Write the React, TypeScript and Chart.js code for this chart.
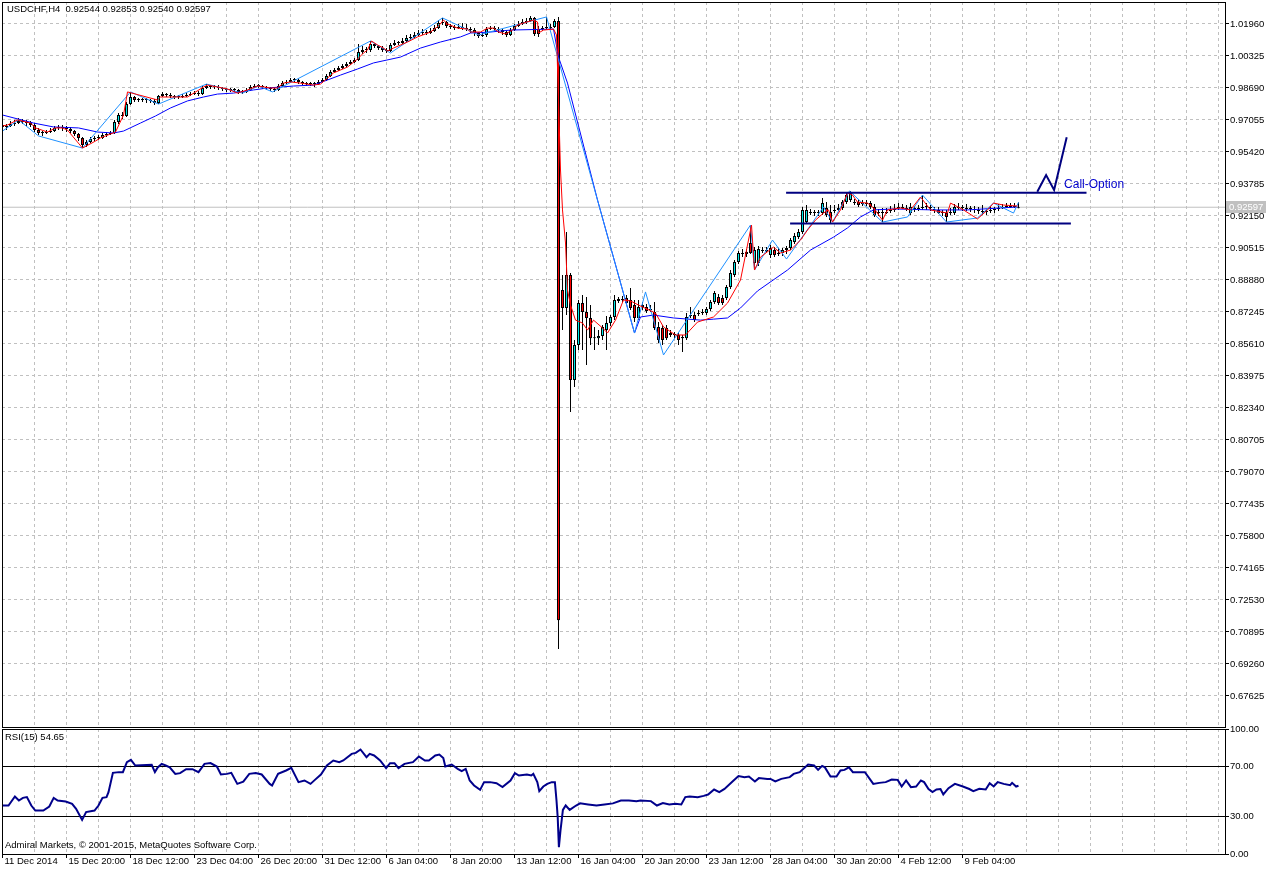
import React, { useEffect, useRef } from 'react';
import { Chart, registerables } from 'chart.js';

Chart.register(...registerables);

const FONT = '"Liberation Sans", Arial, sans-serif';
const GRID = '#C0C0C0';
const BULL = '#00E8E8';
const BEAR = '#FF0000';

const SYMBOL = 'USDCHF';
const PERIOD = 'H4';
const RSI_PERIOD = 15;
const CALL_TEXT = 'Call-Option';
const COPYRIGHT = 'Admiral Markets, \u00A9 2001-2015, MetaQuotes Software Corp.';

// x-axis labels, one every 16 bars (bar 0, 16, 32, ...)
const xLabels = ['11 Dec 2014', '15 Dec 20:00', '18 Dec 12:00', '23 Dec 04:00', '26 Dec 20:00', '31 Dec 12:00',
  '6 Jan 04:00', '8 Jan 20:00', '13 Jan 12:00', '16 Jan 04:00', '20 Jan 20:00', '23 Jan 12:00',
  '28 Jan 04:00', '30 Jan 20:00', '4 Feb 12:00', '9 Feb 04:00'];

const priceTicks = [0.67625, 0.69260, 0.70895, 0.72530, 0.74165, 0.75800, 0.77435, 0.79070, 0.80705, 0.82340,
  0.83975, 0.85610, 0.87245, 0.88880, 0.90515, 0.92150, 0.93785, 0.95420, 0.97055, 0.98690, 1.00325, 1.01960];
const rsiTicks = [0, 30, 70, 100];

const opens = [
  0.9680, 0.9670, 0.9675, 0.9685, 0.9690, 0.9700, 0.9695, 0.9690, 0.9680, 0.9654,
  0.9639, 0.9639, 0.9644, 0.9649, 0.9665, 0.9670, 0.9665, 0.9659, 0.9649, 0.9634,
  0.9614, 0.9578, 0.9593, 0.9608, 0.9614, 0.9614, 0.9629, 0.9634, 0.9639, 0.9695,
  0.9731, 0.9726, 0.9787, 0.9823, 0.9808, 0.9808, 0.9808, 0.9808, 0.9803, 0.9792,
  0.9828, 0.9838, 0.9833, 0.9828, 0.9823, 0.9823, 0.9828, 0.9833, 0.9838, 0.9843,
  0.9838, 0.9869, 0.9879, 0.9874, 0.9874, 0.9869, 0.9864, 0.9859, 0.9859, 0.9859,
  0.9849, 0.9849, 0.9859, 0.9874, 0.9879, 0.9879, 0.9874, 0.9869, 0.9864, 0.9859,
  0.9879, 0.9894, 0.9900, 0.9910, 0.9910, 0.9900, 0.9894, 0.9889, 0.9889, 0.9889,
  0.9900, 0.9910, 0.9930, 0.9951, 0.9961, 0.9971, 0.9981, 0.9992, 1.0002, 1.0012,
  1.0053, 1.0063, 1.0063, 1.0094, 1.0084, 1.0073, 1.0063, 1.0058, 1.0089, 1.0099,
  1.0099, 1.0109, 1.0124, 1.0130, 1.0140, 1.0150, 1.0155, 1.0150, 1.0160, 1.0175,
  1.0201, 1.0206, 1.0186, 1.0181, 1.0175, 1.0181, 1.0175, 1.0170, 1.0165, 1.0150,
  1.0135, 1.0140, 1.0170, 1.0175, 1.0170, 1.0165, 1.0155, 1.0140, 1.0165, 1.0186,
  1.0196, 1.0206, 1.0211, 1.0227, 1.0145, 1.0170, 1.0175, 1.0175, 1.0181, 1.0211,
  0.8837, 0.8745, 0.8913, 0.8377, 0.8556, 0.8770, 0.8724, 0.8694, 0.8591, 0.8591,
  0.8602, 0.8632, 0.8668, 0.8699, 0.8781, 0.8791, 0.8796, 0.8786, 0.8760, 0.8694,
  0.8750, 0.8750, 0.8740, 0.8724, 0.8648, 0.8643, 0.8643, 0.8617, 0.8607, 0.8607,
  0.8591, 0.8591, 0.8704, 0.8709, 0.8714, 0.8719, 0.8719, 0.8740, 0.8775, 0.8801,
  0.8796, 0.8796, 0.8852, 0.8913, 0.8980, 0.9026, 0.9021, 0.9077, 0.8975, 0.8975,
  0.9041, 0.9036, 0.9016, 0.9041, 0.9026, 0.9026, 0.9041, 0.9051, 0.9082, 0.9108,
  0.9133, 0.9184, 0.9235, 0.9230, 0.9235, 0.9230, 0.9256, 0.9235, 0.9240, 0.9246,
  0.9256, 0.9286, 0.9297, 0.9286, 0.9286, 0.9276, 0.9281, 0.9281, 0.9261, 0.9230,
  0.9235, 0.9230, 0.9240, 0.9246, 0.9256, 0.9261, 0.9251, 0.9230, 0.9256, 0.9251,
  0.9256, 0.9261, 0.9261, 0.9251, 0.9246, 0.9230, 0.9230, 0.9230, 0.9230, 0.9256,
  0.9261, 0.9251, 0.9256, 0.9251, 0.9246, 0.9235, 0.9240, 0.9240, 0.9246, 0.9251,
  0.9256, 0.9261, 0.9266, 0.9261, 0.92544];

const highs = [
  0.9695, 0.9685, 0.9700, 0.9706, 0.9716, 0.9711, 0.9706, 0.9700, 0.9690, 0.9665,
  0.9649, 0.9654, 0.9665, 0.9675, 0.9680, 0.9680, 0.9675, 0.9670, 0.9654, 0.9639,
  0.9619, 0.9603, 0.9619, 0.9624, 0.9629, 0.9639, 0.9644, 0.9649, 0.9706, 0.9741,
  0.9746, 0.9797, 0.9849, 0.9828, 0.9818, 0.9818, 0.9818, 0.9813, 0.9813, 0.9833,
  0.9849, 0.9843, 0.9843, 0.9833, 0.9833, 0.9838, 0.9843, 0.9849, 0.9854, 0.9854,
  0.9879, 0.9889, 0.9884, 0.9884, 0.9884, 0.9874, 0.9869, 0.9869, 0.9869, 0.9864,
  0.9859, 0.9869, 0.9884, 0.9889, 0.9889, 0.9884, 0.9879, 0.9874, 0.9869, 0.9889,
  0.9905, 0.9910, 0.9920, 0.9920, 0.9915, 0.9905, 0.9900, 0.9900, 0.9900, 0.9910,
  0.9920, 0.9941, 0.9961, 0.9971, 0.9981, 0.9992, 1.0002, 1.0012, 1.0022, 1.0094,
  1.0084, 1.0079, 1.0109, 1.0099, 1.0089, 1.0084, 1.0073, 1.0099, 1.0114, 1.0109,
  1.0124, 1.0140, 1.0145, 1.0155, 1.0165, 1.0170, 1.0165, 1.0175, 1.0191, 1.0216,
  1.0227, 1.0211, 1.0196, 1.0191, 1.0196, 1.0201, 1.0196, 1.0181, 1.0175, 1.0155,
  1.0150, 1.0181, 1.0186, 1.0186, 1.0181, 1.0170, 1.0160, 1.0175, 1.0196, 1.0211,
  1.0221, 1.0227, 1.0237, 1.0232, 1.0186, 1.0186, 1.0232, 1.0196, 1.0221, 1.0232,
  0.8913, 0.9133, 0.8924, 0.8581, 0.8786, 0.8811, 0.8801, 0.8760, 0.8648, 0.8632,
  0.8658, 0.8704, 0.8709, 0.8811, 0.8801, 0.8806, 0.8811, 0.8847, 0.8786, 0.8786,
  0.8775, 0.8765, 0.8760, 0.8775, 0.8673, 0.8658, 0.8658, 0.8632, 0.8622, 0.8617,
  0.8607, 0.8719, 0.8750, 0.8724, 0.8735, 0.8740, 0.8750, 0.8786, 0.8832, 0.8816,
  0.8811, 0.8862, 0.8939, 0.8990, 0.9036, 0.9046, 0.9046, 0.9169, 0.9056, 0.9062,
  0.9056, 0.9056, 0.9067, 0.9056, 0.9051, 0.9051, 0.9062, 0.9103, 0.9128, 0.9148,
  0.9261, 0.9271, 0.9251, 0.9246, 0.9246, 0.9307, 0.9286, 0.9271, 0.9271, 0.9276,
  0.9297, 0.9332, 0.9343, 0.9302, 0.9302, 0.9297, 0.9297, 0.9292, 0.9276, 0.9251,
  0.9256, 0.9256, 0.9266, 0.9276, 0.9281, 0.9276, 0.9271, 0.9281, 0.9266, 0.9271,
  0.9322, 0.9281, 0.9271, 0.9261, 0.9261, 0.9246, 0.9246, 0.9256, 0.9276, 0.9281,
  0.9271, 0.9276, 0.9266, 0.9266, 0.9261, 0.9271, 0.9251, 0.9266, 0.9261, 0.9276,
  0.9276, 0.9281, 0.9281, 0.9281, 0.92853];

const lows = [
  0.9659, 0.9654, 0.9670, 0.9675, 0.9685, 0.9685, 0.9675, 0.9670, 0.9644, 0.9629,
  0.9624, 0.9634, 0.9639, 0.9644, 0.9654, 0.9649, 0.9644, 0.9639, 0.9624, 0.9598,
  0.9562, 0.9567, 0.9588, 0.9598, 0.9603, 0.9608, 0.9619, 0.9629, 0.9634, 0.9685,
  0.9711, 0.9721, 0.9782, 0.9797, 0.9797, 0.9797, 0.9792, 0.9792, 0.9782, 0.9787,
  0.9823, 0.9823, 0.9818, 0.9813, 0.9813, 0.9818, 0.9823, 0.9828, 0.9833, 0.9828,
  0.9833, 0.9864, 0.9864, 0.9864, 0.9859, 0.9854, 0.9849, 0.9849, 0.9849, 0.9838,
  0.9838, 0.9843, 0.9854, 0.9869, 0.9869, 0.9864, 0.9859, 0.9854, 0.9849, 0.9854,
  0.9874, 0.9889, 0.9894, 0.9900, 0.9889, 0.9884, 0.9879, 0.9879, 0.9874, 0.9884,
  0.9894, 0.9905, 0.9925, 0.9946, 0.9956, 0.9966, 0.9976, 0.9987, 0.9997, 1.0007,
  1.0043, 1.0048, 1.0053, 1.0073, 1.0063, 1.0053, 1.0048, 1.0053, 1.0084, 1.0089,
  1.0094, 1.0104, 1.0114, 1.0124, 1.0135, 1.0140, 1.0140, 1.0145, 1.0155, 1.0170,
  1.0191, 1.0175, 1.0170, 1.0165, 1.0170, 1.0165, 1.0160, 1.0150, 1.0135, 1.0124,
  1.0130, 1.0130, 1.0165, 1.0160, 1.0150, 1.0140, 1.0130, 1.0135, 1.0160, 1.0181,
  1.0191, 1.0196, 1.0206, 1.0135, 1.0130, 1.0160, 1.0165, 1.0170, 1.0175, 0.7002,
  0.8632, 0.8709, 0.8213, 0.8341, 0.8530, 0.8530, 0.8454, 0.8556, 0.8530, 0.8556,
  0.8581, 0.8530, 0.8653, 0.8683, 0.8770, 0.8775, 0.8760, 0.8735, 0.8673, 0.8683,
  0.8735, 0.8719, 0.8724, 0.8632, 0.8566, 0.8556, 0.8581, 0.8597, 0.8591, 0.8556,
  0.8520, 0.8581, 0.8694, 0.8673, 0.8704, 0.8709, 0.8709, 0.8730, 0.8765, 0.8760,
  0.8760, 0.8786, 0.8842, 0.8903, 0.8970, 0.9005, 0.9005, 0.9021, 0.8949, 0.8959,
  0.9026, 0.9026, 0.9000, 0.9005, 0.9011, 0.9011, 0.9021, 0.9041, 0.9072, 0.9097,
  0.9123, 0.9174, 0.9220, 0.9215, 0.9215, 0.9220, 0.9210, 0.9174, 0.9230, 0.9240,
  0.9246, 0.9276, 0.9286, 0.9271, 0.9261, 0.9266, 0.9266, 0.9251, 0.9210, 0.9215,
  0.9184, 0.9225, 0.9230, 0.9235, 0.9246, 0.9251, 0.9240, 0.9220, 0.9235, 0.9240,
  0.9246, 0.9246, 0.9240, 0.9230, 0.9225, 0.9215, 0.9184, 0.9220, 0.9220, 0.9246,
  0.9240, 0.9240, 0.9235, 0.9230, 0.9225, 0.9220, 0.9220, 0.9230, 0.9230, 0.9240,
  0.9251, 0.9256, 0.9256, 0.9256, 0.92540];

const closes = [
  0.9670, 0.9675, 0.9685, 0.9690, 0.9700, 0.9695, 0.9690, 0.9680, 0.9654, 0.9639,
  0.9639, 0.9644, 0.9649, 0.9665, 0.9670, 0.9665, 0.9659, 0.9649, 0.9634, 0.9614,
  0.9578, 0.9593, 0.9608, 0.9614, 0.9614, 0.9629, 0.9634, 0.9639, 0.9695, 0.9731,
  0.9726, 0.9787, 0.9823, 0.9808, 0.9808, 0.9808, 0.9808, 0.9803, 0.9792, 0.9828,
  0.9838, 0.9833, 0.9828, 0.9823, 0.9823, 0.9828, 0.9833, 0.9838, 0.9843, 0.9838,
  0.9869, 0.9879, 0.9874, 0.9874, 0.9869, 0.9864, 0.9859, 0.9859, 0.9859, 0.9849,
  0.9849, 0.9859, 0.9874, 0.9879, 0.9879, 0.9874, 0.9869, 0.9864, 0.9859, 0.9879,
  0.9894, 0.9900, 0.9910, 0.9910, 0.9900, 0.9894, 0.9889, 0.9889, 0.9889, 0.9900,
  0.9910, 0.9930, 0.9951, 0.9961, 0.9971, 0.9981, 0.9992, 1.0002, 1.0012, 1.0053,
  1.0063, 1.0063, 1.0094, 1.0084, 1.0073, 1.0063, 1.0058, 1.0089, 1.0099, 1.0099,
  1.0109, 1.0124, 1.0130, 1.0140, 1.0150, 1.0155, 1.0150, 1.0160, 1.0175, 1.0201,
  1.0206, 1.0186, 1.0181, 1.0175, 1.0181, 1.0175, 1.0170, 1.0165, 1.0150, 1.0135,
  1.0140, 1.0170, 1.0175, 1.0170, 1.0165, 1.0155, 1.0140, 1.0165, 1.0186, 1.0196,
  1.0206, 1.0211, 1.0227, 1.0145, 1.0170, 1.0175, 1.0175, 1.0181, 1.0211, 0.7150,
  0.8745, 0.8913, 0.8377, 0.8556, 0.8770, 0.8724, 0.8694, 0.8591, 0.8591, 0.8602,
  0.8648, 0.8668, 0.8699, 0.8786, 0.8791, 0.8786, 0.8770, 0.8745, 0.8694, 0.8750,
  0.8760, 0.8730, 0.8735, 0.8643, 0.8581, 0.8581, 0.8591, 0.8607, 0.8612, 0.8581,
  0.8597, 0.8699, 0.8709, 0.8683, 0.8719, 0.8724, 0.8740, 0.8775, 0.8821, 0.8770,
  0.8770, 0.8852, 0.8924, 0.8980, 0.9026, 0.9021, 0.9031, 0.9026, 0.9041, 0.9046,
  0.9036, 0.9041, 0.9051, 0.9016, 0.9021, 0.9041, 0.9051, 0.9092, 0.9113, 0.9133,
  0.9246, 0.9246, 0.9230, 0.9235, 0.9230, 0.9281, 0.9220, 0.9194, 0.9246, 0.9256,
  0.9286, 0.9322, 0.9332, 0.9281, 0.9271, 0.9281, 0.9276, 0.9261, 0.9220, 0.9235,
  0.9230, 0.9235, 0.9246, 0.9251, 0.9261, 0.9256, 0.9256, 0.9261, 0.9251, 0.9256,
  0.9261, 0.9266, 0.9256, 0.9246, 0.9230, 0.9235, 0.9210, 0.9235, 0.9261, 0.9261,
  0.9256, 0.9256, 0.9251, 0.9246, 0.9240, 0.9240, 0.9235, 0.9246, 0.9251, 0.9256,
  0.9261, 0.9266, 0.9261, 0.9266, 0.92597];

// red ZigZag-type line: [bar, price]
const redLine = [[0, 0.9675], [1.25, 0.9680], [3.75, 0.9706], [7, 0.9690], [8.25, 0.9665], [11.25, 0.9644], [13.25, 0.9665],
  [15, 0.9665], [16.25, 0.9654], [20, 0.9562], [23.25, 0.9598], [24.5, 0.9614], [27, 0.9634], [28.25, 0.9644], [30.25, 0.9731],
  [31.25, 0.9849], [38.75, 0.9808], [39.5, 0.9823], [41.5, 0.9823], [46.25, 0.9823], [50.25, 0.9874], [51.25, 0.9884],
  [56.25, 0.9864], [58.75, 0.9843], [61.25, 0.9859], [63.75, 0.9879], [67, 0.9869], [68.75, 0.9869], [70.25, 0.9894],
  [72, 0.9900], [74.5, 0.9894], [77.75, 0.9884], [79.5, 0.9889], [81.25, 0.9920], [82.75, 0.9946], [86.25, 0.9976],
  [88.75, 1.0017], [90.25, 1.0048], [91.25, 1.0063], [92.25, 1.0109], [93.75, 1.0089], [95.25, 1.0073], [96.25, 1.0058],
  [97.75, 1.0073], [101.25, 1.0104], [103.75, 1.0130], [107, 1.0155], [109, 1.0186], [110.25, 1.0216], [111.25, 1.0196],
  [113.75, 1.0175], [116.25, 1.0170], [117, 1.0155], [119.5, 1.0155], [121.25, 1.0175], [122.75, 1.0175], [124, 1.0155],
  [125.75, 1.0145], [127.5, 1.0165], [128.75, 1.0191], [130.25, 1.0201], [132.75, 1.0216], [133.75, 1.0206], [134, 1.0150],
  [135.25, 1.0165], [137.75, 1.0170], [138.5, 1.0140], [139, 0.9808], [139.5, 0.9450], [140, 0.9246], [140.75, 0.9077],
  [141.25, 0.8837], [142, 0.8760], [143.25, 0.8683], [145, 0.8668], [146.25, 0.8632], [147.75, 0.8683], [150, 0.8643],
  [151.25, 0.8617], [153.25, 0.8683], [155.25, 0.8786], [157, 0.8781], [159.5, 0.8755], [163.25, 0.8719], [165.25, 0.8648],
  [168.25, 0.8607], [170.75, 0.8607], [173.75, 0.8673], [177.75, 0.8699], [181.25, 0.8770], [184.5, 0.8888], [187.25, 0.9169],
  [188, 0.8939], [189.5, 0.9005], [192.75, 0.9056], [194.5, 0.9026], [197, 0.9041], [199.5, 0.9092], [201.25, 0.9143],
  [203.25, 0.9194], [205.25, 0.9230], [206.5, 0.9246], [207.5, 0.9184], [209.5, 0.9246], [211.25, 0.9332], [212.5, 0.9322],
  [213.75, 0.9286], [216.25, 0.9281], [217.75, 0.9256], [220, 0.9194], [221.25, 0.9246], [224.5, 0.9256], [227, 0.9246],
  [229.5, 0.9312], [232, 0.9246], [236.25, 0.9230], [237, 0.9281], [240.25, 0.9246], [243.75, 0.9200], [246.25, 0.9246],
  [247.75, 0.9281], [250.25, 0.9271], [253.75, 0.9266]];

// light-blue ZigZag: [bar, price]
const blueZigzag = [[0, 0.9649], [4, 0.9706], [9, 0.9624], [20, 0.9562], [32, 0.9849], [39, 0.9787], [51, 0.9889],
  [60, 0.9843], [64, 0.9879], [67.5, 0.9849], [92, 1.0109], [97, 1.0048], [110, 1.0227], [119, 1.0140], [136, 1.0232],
  [158, 0.8617], [160.75, 0.8827], [165.25, 0.8505], [187, 0.9169], [188, 0.8939], [192.5, 0.9092], [196, 0.8995],
  [205.25, 0.9261], [207.5, 0.9184], [211.75, 0.9343], [220, 0.9184], [226.25, 0.9210], [230, 0.9322], [236, 0.9184],
  [243.75, 0.9205], [247.75, 0.9281], [252.75, 0.9230], [254, 0.9285]];

// blue moving average: [bar, price]
const maLine = [[0, 0.9731], [7.75, 0.9690], [12.75, 0.9670], [19, 0.9665], [23.75, 0.9644], [27.75, 0.9639], [30.25, 0.9649],
  [34.5, 0.9690], [38.25, 0.9726], [42, 0.9767], [46.25, 0.9803], [50.25, 0.9823], [53.75, 0.9838], [57.75, 0.9843],
  [62.75, 0.9859], [66.25, 0.9869], [69.5, 0.9874], [72.75, 0.9879], [77.75, 0.9884], [81.25, 0.9910], [84.5, 0.9935],
  [88.75, 0.9966], [92.75, 0.9997], [99.5, 1.0027], [104.5, 1.0073], [109.5, 1.0104], [114.5, 1.0130], [117, 1.0150],
  [122, 1.0155], [127, 1.0165], [137.75, 1.0170], [139, 1.0027], [141.25, 0.9894], [148.75, 0.9297], [158, 0.8617],
  [159.5, 0.8699], [162.75, 0.8709], [167.75, 0.8694], [174.5, 0.8683], [177.75, 0.8688], [181.25, 0.8694], [184.5, 0.8745],
  [188.75, 0.8832], [196.25, 0.8939], [202, 0.9041], [207.75, 0.9107], [211.25, 0.9154], [214.5, 0.9210], [217.75, 0.9246],
  [222.75, 0.9251], [232.75, 0.9246], [241.25, 0.9246], [249.5, 0.9256], [253.75, 0.9261]];

// RSI(15): [bar, value]
const rsiLine = [[0, 38.8], [1.5, 38.8], [3.1, 46], [4.1, 42.8], [5.1, 44.9], [6.1, 45.5], [7.2, 38.8], [8.2, 34.8], [10.2, 34.8],
  [11.7, 38], [12.8, 44.9], [13.8, 42.8], [15.8, 42], [17.4, 40.1], [18.4, 36.1], [19.9, 27.3], [20.9, 33.5], [23, 34.8],
  [24, 38.8], [25, 44.9], [26, 45.5], [26.5, 49.5], [27.6, 64.9], [29.1, 65.5], [30.1, 65.5], [31.1, 73.5], [32.1, 75.3],
  [33.2, 70.8], [37.3, 71.3], [38.1, 65.5], [38.8, 69.3], [39.8, 72.1], [40.8, 70.8], [41.8, 69.3], [43.2, 64.1], [44.4, 64.7],
  [45.9, 67.9], [47.5, 67.9], [49, 65.5], [50.5, 72.1], [52, 72.7], [53.6, 70], [54.6, 63.6], [56.1, 64.1], [57.2, 64.9],
  [58.7, 56.1], [60.2, 57.9], [61.7, 64.1], [63.3, 64.7], [64.8, 63.6], [66.8, 56.1], [67.4, 54.8], [68.9, 64.1], [70.9, 66.8],
  [72.2, 68.9], [74, 57.5], [75.5, 58.8], [77, 56.1], [78.1, 59.3], [79.6, 63.6], [81.1, 70.8], [82.7, 74.8], [84.2, 73.5],
  [85.2, 74.8], [87.3, 80.1], [88.3, 80.9], [89.5, 83.6], [91, 77.5], [91.8, 80.1], [92.9, 78.8], [94.4, 74.8], [95.9, 68.7],
  [96.9, 72.7], [98, 72.7], [99, 68.7], [100.5, 72.1], [102.6, 73.5], [104.1, 78], [105.6, 74.8], [106.6, 74.8], [108.2, 78.8],
  [109.2, 79.6], [110.2, 76.7], [110.7, 70], [112.3, 71.6], [113.8, 68.1], [114.8, 66.3], [115.8, 68.1], [116.8, 58.8],
  [117.9, 54.8], [119.4, 51.3], [120.4, 57.5], [121.9, 57.5], [123.5, 56.6], [125, 53.5], [127, 58.8], [128.1, 64.7],
  [129.1, 62.8], [131.1, 63.6], [132.2, 62.8], [132.7, 64.1], [133.7, 57.5], [134.2, 50.3], [135.2, 54], [136.2, 56.1],
  [137.3, 57.5], [138.1, 57.5], [138.5, 42.8], [138.8, 29.5], [139.1, 5.5], [139.5, 18.8], [140.1, 35.3], [140.8, 38.8],
  [141.8, 35.3], [143.4, 38.8], [144.4, 40.5], [146.4, 39.6], [148.5, 38.8], [150.5, 39.6], [152.6, 40.5], [154.6, 42.8],
  [156.6, 42.8], [158.5, 42.3], [159.5, 42.8], [162.1, 42.3], [163.6, 38.8], [165.1, 40.7], [166.7, 39.6], [168.2, 40.1],
  [169.7, 39.6], [170.7, 45.5], [171.8, 46], [173.8, 45.5], [175.3, 46.5], [176.4, 47.6], [177.9, 51.6], [179.2, 49.5],
  [180.5, 52.1], [182.5, 58], [184, 62.3], [185.5, 61.5], [186.6, 62], [188.1, 58], [189.1, 60.7], [191.2, 60.1], [192, 60.1],
  [193.2, 58], [194.7, 60.1], [196.8, 61.5], [197.8, 64.1], [199.3, 65.5], [201.4, 71.6], [202.9, 70.8], [203.9, 67.3],
  [204.9, 70.5], [205.6, 69.3], [207, 62], [208.5, 62], [209.5, 66.8], [210.5, 67.3], [211.6, 69.3], [212.6, 65.5],
  [215.6, 65.5], [217.7, 56.1], [219.2, 56.9], [220.8, 57.5], [222.3, 59.6], [223.8, 59.3], [224.8, 54], [225.9, 58.8],
  [227.1, 53.5], [228.4, 54], [229.6, 58.8], [230.4, 57.5], [231.5, 52], [232.5, 49.5], [233.5, 51.6], [234.5, 52],
  [235.2, 47.6], [236.5, 52.7], [238.1, 56.1], [240.1, 54], [241.7, 52], [242.7, 50.3], [244.2, 52.1], [245.8, 51.6],
  [246.8, 56.6], [247.8, 54], [248.8, 57.5], [250.3, 56.1], [251.9, 55.1], [252.4, 56.9], [253.4, 54], [254, 54.65]];

// hand-drawn objects: [bar, price]
const channelTop = [[195.9, 0.93339], [271.0, 0.93339]];
const channelBottom = [[196.9, 0.91765], [267.1, 0.91765]];
const callPath = [[258.7, 0.9339], [260.9, 0.9424], [262.9, 0.9348], [266.05, 0.9617]];
const callLabelAt = [265.4, 0.9377];

const X_MIN = -0.125;
const X_MAX = 305.625;
const Y_MIN = 0.66041;
const Y_MAX = 1.03084;

const gridBars: number[] = [];
for (let b = 0; b <= 304; b += 8) gridBars.push(b);

const pts = (arr: number[][]) => arr.map(([x, y]) => ({ x, y }));

export default function App() {
  const mainRef = useRef<HTMLCanvasElement>(null);
  const rsiRef = useRef<HTMLCanvasElement>(null);

  useEffect(() => {
    Chart.defaults.font.family = FONT;
    const n = closes.length;
    const last = n - 1;
    const idx = closes.map((_, i) => i);
    const wickData = idx.map((i) => ({ x: i, y: [lows[i], highs[i]] }));
    const bodyData = idx.map((i) => ({ x: i, y: [opens[i], closes[i]] }));
    const bodyColors = idx.map((i) => (closes[i] > opens[i] ? BULL : closes[i] < opens[i] ? BEAR : '#000'));
    const lastClose = closes[last];
    const title = `${SYMBOL},${PERIOD}  ${opens[last].toFixed(5)} ${highs[last].toFixed(5)} ${lows[last].toFixed(5)} ${closes[last].toFixed(5)}`;
    const rsiLast = rsiLine[rsiLine.length - 1][1];

    const lineDs = (label: string, data: number[][], color: string, width: number, order: number) => ({
      type: 'line' as const, label, data: pts(data), borderColor: color, borderWidth: width,
      pointRadius: 0, tension: 0, order, fill: false,
    });

    const mainDecor = {
      id: 'mainDecor',
      afterDraw(chart: any) {
        const { ctx, chartArea: a, scales } = chart;
        ctx.save();
        ctx.strokeStyle = '#000';
        ctx.lineWidth = 1;
        ctx.setLineDash([]);
        ctx.strokeRect(a.left + 0.5, a.top + 0.5, a.right - a.left, a.bottom - a.top);
        ctx.textAlign = 'left';
        ctx.textBaseline = 'middle';
        ctx.fillStyle = '#000';
        ctx.font = `9.5px ${FONT}`;
        ctx.fillText(title, a.left + 5, a.top + 7);
        ctx.fillStyle = '#0000CD';
        ctx.font = `12px ${FONT}`;
        ctx.fillText(CALL_TEXT, scales.x.getPixelForValue(callLabelAt[0]), scales.y.getPixelForValue(callLabelAt[1]));
        const py = Math.round(scales.y.getPixelForValue(lastClose));
        ctx.fillStyle = '#C0C0C0';
        ctx.fillRect(a.right + 1, py - 6, 40, 12);
        ctx.fillStyle = '#FFFFFF';
        ctx.font = `9.5px ${FONT}`;
        ctx.fillText(lastClose.toFixed(5), a.right + 4, py);
        ctx.restore();
      },
    };

    const rsiDecor = {
      id: 'rsiDecor',
      afterDraw(chart: any) {
        const { ctx, chartArea: a } = chart;
        ctx.save();
        ctx.strokeStyle = '#000';
        ctx.lineWidth = 1;
        ctx.setLineDash([]);
        ctx.strokeRect(a.left + 0.5, a.top + 0.5, a.right - a.left, a.bottom - a.top);
        ctx.textAlign = 'left';
        ctx.textBaseline = 'middle';
        ctx.fillStyle = '#000';
        ctx.font = `9.5px ${FONT}`;
        ctx.fillText(`RSI(${RSI_PERIOD}) ${rsiLast.toFixed(2)}`, a.left + 3, a.top + 8);
        ctx.fillText(COPYRIGHT, a.left + 3, a.bottom - 9);
        ctx.restore();
      },
    };

    const main = new Chart(mainRef.current as HTMLCanvasElement, {
      type: 'bar',
      data: {
        datasets: [
          lineDs('bid', [[X_MIN, lastClose], [X_MAX, lastClose]], '#C0C0C0', 1, 10),
          {
            type: 'bar', label: 'wicks', data: wickData as any, backgroundColor: '#000', borderWidth: 0,
            barThickness: 1, grouped: false, inflateAmount: 0, order: 9,
          },
          {
            type: 'bar', label: 'bodies', data: bodyData as any, backgroundColor: bodyColors, borderColor: '#000',
            borderWidth: 1, borderSkipped: false, barThickness: 3, grouped: false, inflateAmount: 0, minBarLength: 1, order: 8,
          },
          lineDs('MA', maLine, '#0000FF', 1, 4),
          lineDs('ZigZag2', blueZigzag, '#1E90FF', 1, 3),
          lineDs('ZigZag', redLine, '#FF0000', 1, 2),
          lineDs('top', channelTop, '#000080', 2, 1),
          lineDs('bottom', channelBottom, '#000080', 2, 1),
          lineDs('call', callPath, '#000080', 2, 1),
        ] as any,
      },
      options: {
        responsive: false,
        animation: false,
        devicePixelRatio: 1,
        events: [],
        layout: { padding: { left: 2, top: 2, right: 0, bottom: 1 } },
        plugins: { legend: { display: false }, tooltip: { enabled: false } },
        scales: {
          x: {
            type: 'linear', min: X_MIN, max: X_MAX, offset: false,
            afterBuildTicks: (s: any) => { s.ticks = gridBars.map((v) => ({ value: v })); },
            afterFit: (s: any) => { s.height = 0; s.paddingLeft = 0; s.paddingRight = 0; },
            ticks: { display: false },
            grid: { color: GRID, lineWidth: 1, drawTicks: false, offset: false },
            border: { display: false, dash: [3, 3] },
          },
          y: {
            type: 'linear', position: 'right', min: Y_MIN, max: Y_MAX,
            afterBuildTicks: (s: any) => { s.ticks = priceTicks.map((v) => ({ value: v })); },
            afterFit: (s: any) => { s.width = 51; s.paddingTop = 0; s.paddingBottom = 0; },
            ticks: {
              autoSkip: false, padding: 1, color: '#000', font: { family: FONT, size: 9.5 },
              callback: (v: any) => Number(v).toFixed(5),
            },
            grid: { color: GRID, lineWidth: 1, tickColor: '#000', tickLength: 4, drawTicks: true },
            border: { display: false, dash: [3, 3] },
          },
        },
      } as any,
      plugins: [mainDecor],
    });

    const rsi = new Chart(rsiRef.current as HTMLCanvasElement, {
      type: 'line',
      data: {
        datasets: [
          {
            label: 'RSI', data: pts(rsiLine), borderColor: '#00008B', borderWidth: 2,
            pointRadius: 0, tension: 0, fill: false,
          },
        ],
      },
      options: {
        responsive: false,
        animation: false,
        devicePixelRatio: 1,
        events: [],
        layout: { padding: { left: 2, top: 13, right: 0, bottom: 0 } },
        plugins: { legend: { display: false }, tooltip: { enabled: false } },
        scales: {
          x: {
            type: 'linear', min: X_MIN, max: X_MAX, offset: false,
            afterBuildTicks: (s: any) => { s.ticks = gridBars.map((v) => ({ value: v })); },
            afterFit: (s: any) => { s.height = 19; s.paddingLeft = 0; s.paddingRight = 0; },
            ticks: {
              autoSkip: false, maxRotation: 0, minRotation: 0, align: 'start', labelOffset: 2, padding: -1,
              color: '#000', font: { family: FONT, size: 9.5, lineHeight: 1 },
              callback: (_v: any, i: number) => (i % 2 === 0 && xLabels[i / 2]) ? xLabels[i / 2] : '',
            },
            grid: {
              color: GRID, lineWidth: 1, drawTicks: true, tickLength: 4, offset: false,
              tickColor: (c: any) => (c.index % 2 === 0 && c.index / 2 < xLabels.length ? '#000' : 'rgba(0,0,0,0)'),
            },
            border: { display: false, dash: [3, 3] },
          },
          y: {
            type: 'linear', position: 'right', min: 0, max: 100,
            afterBuildTicks: (s: any) => { s.ticks = rsiTicks.map((v) => ({ value: v })); },
            afterFit: (s: any) => { s.width = 51; s.paddingTop = 0; s.paddingBottom = 0; },
            ticks: {
              autoSkip: false, padding: 1, color: '#000', font: { family: FONT, size: 9.5 },
              callback: (v: any) => Number(v).toFixed(2),
            },
            grid: {
              lineWidth: 1, tickColor: '#000', tickLength: 4, drawTicks: true,
              color: (c: any) => (c.tick && (c.tick.value === 30 || c.tick.value === 70) ? '#000' : 'rgba(0,0,0,0)'),
            },
            border: { display: false },
          },
        },
      } as any,
      plugins: [rsiDecor],
    });

    return () => {
      main.destroy();
      rsi.destroy();
    };
  }, []);

  return (
    <div style={{ position: 'fixed', left: 0, top: 0, width: 1276, height: 873, background: '#FFFFFF', overflow: 'hidden' }}>
      <canvas ref={mainRef} width={1276} height={728}
        style={{ position: 'absolute', left: 0, top: 0, width: 1276, height: 728 }} />
      <canvas ref={rsiRef} width={1276} height={157}
        style={{ position: 'absolute', left: 0, top: 716, width: 1276, height: 157 }} />
    </div>
  );
}
